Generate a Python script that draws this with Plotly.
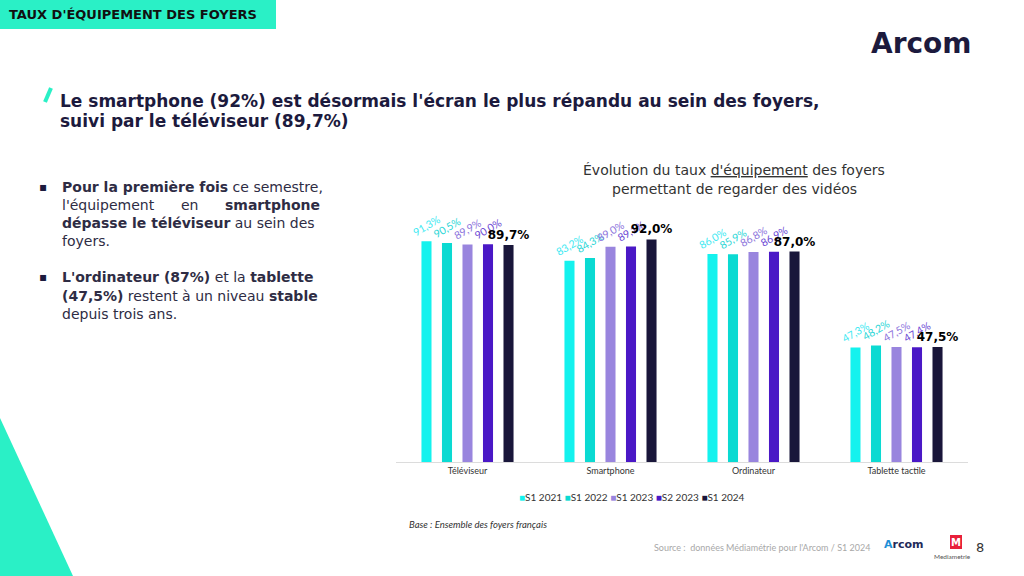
import plotly.graph_objects as go

# Data
categories = ["Téléviseur", "Smartphone", "Ordinateur", "Tablette tactile"]
periods = ["S1 2021", "S1 2022", "S1 2023", "S2 2023", "S1 2024"]
s1_2021 = [91.3, 83.2, 86.0, 47.3]
s1_2022 = [90.5, 84.3, 85.9, 48.2]
s1_2023 = [89.9, 89.0, 86.8, 47.5]
s2_2023 = [90.0, 89.1, 86.9, 47.4]
s1_2024 = [89.7, 92.0, 87.0, 47.5]
series = [s1_2021, s1_2022, s1_2023, s2_2023, s1_2024]

bar_colors = ["#14F2EE", "#0BDAD2", "#9985DE", "#4A18C6", "#19163A"]
label_colors = ["#3DE9F2", "#2BD6D6", "#8C74DC", "#6B48D4", "#000000"]

NAVY = "#1C1A3D"
MINT = "#2AF0C6"
FONT = "Lato"
WIDE = "DejaVu Sans"


def fmt(v):
    return f"{v:.1f}".replace(".", ",") + "%"


fig = go.Figure()
for i, (name, vals) in enumerate(zip(periods, series)):
    last = i == len(periods) - 1
    fig.add_trace(go.Bar(
        name=name,
        x=categories,
        y=vals,
        marker=dict(color=bar_colors[i], line=dict(width=0)),
        text=[fmt(v) for v in vals],
        textposition="outside",
        textangle=0 if last else -30,
        constraintext="none",
        cliponaxis=False,
        textfont=dict(
            family=WIDE if last else FONT,
            size=12 if last else 10.5,
            color=label_colors[i],
            weight="bold" if last else "normal",
        ),
        hoverinfo="skip",
        showlegend=False,
    ))


def px_x(x):
    return x / 1024


def px_y(y):
    return 1 - y / 576


ann = []


def text(x, y, s, size=14, color=NAVY, xanchor="left", bold=False, italic=False, family=WIDE):
    ann.append(dict(
        x=px_x(x), y=px_y(y), xref="paper", yref="paper",
        text=s, showarrow=False, xanchor=xanchor, yanchor="middle",
        align=xanchor if xanchor != "center" else "center",
        font=dict(family=family, size=size, color=color,
                  weight="bold" if bold else "normal",
                  style="italic" if italic else "normal"),
    ))


# header
text(7, 14, "TAUX D'ÉQUIPEMENT DES FOYERS", size=13, bold=True, color="#111111")

# headline
text(58, 101, "Le smartphone (92%) est désormais l'écran le plus répandu au sein des foyers,",
     size=17, bold=True)
text(58, 121, "suivi par le téléviseur (89,7%)", size=17, bold=True)

# bullets
BODY = "#2E2C44"
text(37, 187, "▪", size=12, color=NAVY)
text(60, 187, "<b>Pour la première fois</b> ce semestre,", size=14, color=BODY)
text(60, 205, "l'équipement", size=14, color=BODY)
text(190, 205, "en", size=14, color=BODY, xanchor="center")
text(322, 205, "<b>smartphone</b>", size=14, color=BODY, xanchor="right")
text(60, 223, "<b>dépasse le téléviseur</b> au sein des", size=14, color=BODY)
text(60, 241, "foyers.", size=14, color=BODY)
text(37, 277, "▪", size=12, color=NAVY)
text(60, 277, "<b>L'ordinateur (87%)</b> et la <b>tablette</b>", size=14, color=BODY)
text(60, 296, "<b>(47,5%)</b> restent à un niveau <b>stable</b>", size=14, color=BODY)
text(60, 314, "depuis trois ans.", size=14, color=BODY)

# chart title
text(734, 170, "Évolution du taux <u>d'équipement</u> des foyers", size=14,
     color="#333333", xanchor="center")
text(734, 189, "permettant de regarder des vidéos", size=14, color="#333333", xanchor="center")

# legend
legend_html = " ".join(
    f"<span style='color:{c}'>■</span>{p}" for p, c in zip(periods, bar_colors)
)
text(632, 497, legend_html, size=10, color="#333333", xanchor="center", family=FONT)

# footnotes
text(407, 524, "Base : Ensemble des foyers français", size=9.5, color="#333333",
     italic=True, family=FONT)
text(872, 547, "Source :  données Médiamétrie pour l'Arcom / S1 2024", size=9,
     color="#A8A8A8", xanchor="right", family=FONT)
text(903, 544, "<span style='color:#1F8FD6'>A</span>rcom", size=11, bold=True,
     color="#1E2A5A", xanchor="center")
text(956, 542, "M", size=10, bold=True, color="white", xanchor="center")
text(952, 556, "Mediametrie", size=6.5, color="#555555", xanchor="center", family=FONT)
text(980, 547, "8", size=13, color="#333333", xanchor="center")

# main logo
text(921, 43, "Arcom", size=28, bold=True, color=NAVY, xanchor="center")

shapes = [
    dict(type="rect", xref="paper", yref="paper", x0=0, x1=px_x(276), y0=px_y(29), y1=1,
         fillcolor=MINT, line=dict(width=0), layer="below"),
    dict(type="path", xref="paper", yref="paper",
         path=f"M0,{px_y(418)} L{px_x(73)},0 L0,0 Z",
         fillcolor=MINT, line=dict(width=0), layer="below"),
    dict(type="line", xref="paper", yref="paper", x0=px_x(45), y0=px_y(102),
         x1=px_x(51), y1=px_y(88), line=dict(color=MINT, width=4)),
    dict(type="rect", xref="paper", yref="paper", x0=px_x(950), x1=px_x(962),
         y0=px_y(549), y1=px_y(535), fillcolor="#E8203A", line=dict(width=0),
         layer="below"),
]

fig.update_layout(
    width=1024,
    height=576,
    margin=dict(l=0, r=0, t=0, b=0),
    paper_bgcolor="white",
    plot_bgcolor="white",
    barmode="group",
    bargap=0.283,
    bargroupgap=0.51,
    font=dict(family=FONT, color="#333333"),
    xaxis=dict(
        domain=[px_x(396), px_x(968)],
        showline=True,
        linecolor="#DCDCDC",
        linewidth=1,
        ticks="",
        tickfont=dict(size=9, color="#333333"),
        showgrid=False,
        fixedrange=True,
    ),
    yaxis=dict(
        domain=[px_y(462), px_y(200)],
        range=[0, 108.3],
        visible=False,
        showgrid=False,
        fixedrange=True,
    ),
    annotations=ann,
    shapes=shapes,
    showlegend=False,
)

fig.write_html("out.html", config={"displayModeBar": False},
               post_script="document.body.style.margin='0';")
